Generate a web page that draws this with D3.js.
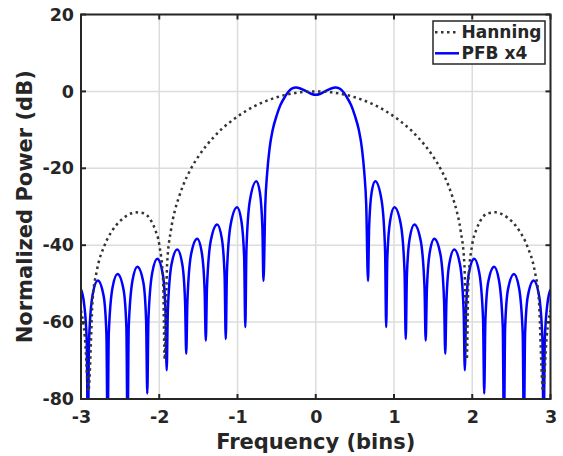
<!DOCTYPE html>
<html>
<head>
  <meta charset="utf-8">
  <title>Hanning vs PFB</title>
  <script src="https://d3js.org/d3.v7.min.js"></script>
  <style>
    body {
      margin: 0;
      background: #ffffff;
      font-family: 'DejaVu Sans', sans-serif;
    }
    svg text {
      font-weight: bold;
      fill: #262626;
    }
  </style>
</head>
<body>
  <div id="chart"></div>

  <script>
    // Axis ticks
    const xTicks = [-3, -2, -1, 0, 1, 2, 3];
    const yTicks = [-80, -60, -40, -20, 0, 20];

    // Series names (legend)
    const seriesNames = ["Hanning", "PFB x4"];

    // Hanning response, [frequency (bins), power (dB)]
    const hanning = [
      [-3.0, -57], [-2.95, -64], [-2.905, -78], [-2.85, -53.8], [-2.8, -46.9], [-2.7, -40.1],
      [-2.6, -36.2], [-2.5, -33.7], [-2.4, -32.15], [-2.3, -31.45], [-2.2, -31.7], [-2.1, -33.8],
      [-2.05, -36.1], [-2.0, -39.8], [-1.95, -49.6], [-1.93, -69.7], [-1.9, -45.2], [-1.85, -36.0],
      [-1.8, -31.0], [-1.75, -27.6], [-1.7, -24.7], [-1.6, -20.3], [-1.5, -16.93], [-1.4, -14.15],
      [-1.3, -11.8], [-1.2, -9.75], [-1.1, -8.06], [-1.0, -6.51], [-0.9, -5.21], [-0.8, -4.03],
      [-0.7, -3.05], [-0.6, -2.22], [-0.5, -1.53], [-0.4, -0.97], [-0.3, -0.55], [-0.2, -0.24],
      [-0.1, -0.06], [0, 0],
      [0.1, -0.06], [0.2, -0.24], [0.3, -0.55], [0.4, -0.97], [0.5, -1.53], [0.6, -2.22],
      [0.7, -3.05], [0.8, -4.03], [0.9, -5.21], [1.0, -6.51], [1.1, -8.06], [1.2, -9.75],
      [1.3, -11.8], [1.4, -14.15], [1.5, -16.93], [1.6, -20.3], [1.7, -24.7], [1.75, -27.6],
      [1.8, -31.0], [1.85, -36.0], [1.9, -45.2], [1.93, -69.7], [1.95, -49.6], [2.0, -39.8],
      [2.05, -36.1], [2.1, -33.8], [2.2, -31.7], [2.3, -31.45], [2.4, -32.15], [2.5, -33.7],
      [2.6, -36.2], [2.7, -40.1], [2.8, -46.9], [2.85, -53.8], [2.905, -78], [2.95, -64],
      [3.0, -57]
    ];

    // PFB x4 response, [frequency (bins), power (dB)]
    const pfb = [
      [-3.0, -51.5], [-2.96, -55.3], [-2.927, -64.8],
      [-2.912, -90], [-2.897, -64.6], [-2.85, -52.7], [-2.785, -49.2], [-2.71, -53.3], [-2.675, -63.2],
      [-2.66, -90], [-2.645, -63.0], [-2.597, -51.0], [-2.533, -47.5], [-2.456, -51.6], [-2.42, -61.4],
      [-2.405, -90], [-2.39, -61.2], [-2.342, -49.2], [-2.28, -45.6], [-2.203, -49.7], [-2.168, -59.5],
      [-2.153, -78.6], [-2.138, -59.2], [-2.09, -47.2], [-2.025, -43.5], [-1.955, -47.5], [-1.92, -57.3],
      [-1.905, -72.5], [-1.89, -57.0], [-1.8425, -44.9], [-1.77, -41.1], [-1.705, -45.0], [-1.67, -54.7],
      [-1.655, -68.2], [-1.64, -54.5], [-1.5925, -42.3], [-1.515, -38.3], [-1.455, -42.1], [-1.42, -51.7],
      [-1.405, -64.8], [-1.39, -51.0], [-1.341, -38.8], [-1.26, -34.6], [-1.2, -38.3], [-1.165, -47.8],
      [-1.15, -64.4], [-1.135, -47.0], [-1.0875, -34.6], [-1.005, -30.1], [-0.95, -33.7], [-0.915, -43.1],
      [-0.9, -61.3], [-0.886, -41.3], [-0.842, -28.4], [-0.76, -23.4], [-0.714, -26.3], [-0.682, -35.4],
      [-0.668, -49.3], [-0.645, -29.5], [-0.62, -21.0], [-0.59, -14.8], [-0.55, -10.0], [-0.5, -6.3],
      [-0.45, -3.5], [-0.4, -1.6], [-0.35, -0.1], [-0.3, 0.8], [-0.255, 1.0], [-0.19, 0.7],
      [-0.12, 0.0], [-0.06, -0.6], [0.0, -0.9],
      [0.06, -0.6], [0.12, 0.0], [0.19, 0.7], [0.255, 1.0], [0.3, 0.8], [0.35, -0.1],
      [0.4, -1.6], [0.45, -3.5], [0.5, -6.3], [0.55, -10.0], [0.59, -14.8], [0.62, -21.0],
      [0.645, -29.5], [0.668, -49.3],
      [0.682, -35.4], [0.714, -26.3], [0.76, -23.4], [0.842, -28.4], [0.886, -41.3], [0.9, -61.3],
      [0.915, -43.1], [0.95, -33.7], [1.005, -30.1], [1.0875, -34.6], [1.135, -47.0], [1.15, -64.4],
      [1.165, -47.8], [1.2, -38.3], [1.26, -34.6], [1.341, -38.8], [1.39, -51.0], [1.405, -64.8],
      [1.42, -51.7], [1.455, -42.1], [1.515, -38.3], [1.5925, -42.3], [1.64, -54.5], [1.655, -68.2],
      [1.67, -54.7], [1.705, -45.0], [1.77, -41.1], [1.8425, -44.9], [1.89, -57.0], [1.905, -72.5],
      [1.92, -57.3], [1.955, -47.5], [2.025, -43.5], [2.09, -47.2], [2.138, -59.2], [2.153, -78.6],
      [2.168, -59.5], [2.203, -49.7], [2.28, -45.6], [2.342, -49.2], [2.39, -61.2], [2.405, -90],
      [2.42, -61.4], [2.456, -51.6], [2.533, -47.5], [2.597, -51.0], [2.645, -63.0], [2.66, -90],
      [2.675, -63.2], [2.71, -53.3], [2.785, -49.2], [2.85, -52.7], [2.897, -64.6], [2.912, -90],
      [2.927, -64.8], [2.96, -55.3], [3.0, -51.5]
    ];

    // Chart dimensions
    const width = 563;
    const height = 456;
    const margin = { top: 14.5, right: 12.5, bottom: 57, left: 81 };
    const innerW = width - margin.left - margin.right;
    const innerH = height - margin.top - margin.bottom;

    const svg = d3.select("#chart")
      .append("svg")
      .attr("width", width)
      .attr("height", height);

    const g = svg.append("g")
      .attr("transform", "translate(" + margin.left + "," + margin.top + ")");

    const x = d3.scaleLinear().domain([-3, 3]).range([0, innerW]);
    const y = d3.scaleLinear().domain([-80, 20]).range([innerH, 0]);

    svg.append("defs").append("clipPath")
      .attr("id", "plot-clip")
      .append("rect")
      .attr("width", innerW)
      .attr("height", innerH);

    // Grid
    g.append("g")
      .selectAll("line")
      .data(xTicks)
      .join("line")
      .attr("x1", d => x(d)).attr("x2", d => x(d))
      .attr("y1", 0).attr("y2", innerH)
      .attr("stroke", "#dcdcdc")
      .attr("stroke-width", 1.5);

    g.append("g")
      .selectAll("line")
      .data(yTicks)
      .join("line")
      .attr("x1", 0).attr("x2", innerW)
      .attr("y1", d => y(d)).attr("y2", d => y(d))
      .attr("stroke", "#dcdcdc")
      .attr("stroke-width", 1.5);

    // Curves
    const line = d3.line()
      .x(d => x(d[0]))
      .y(d => y(d[1]))
      .curve(d3.curveMonotoneX);

    const curves = g.append("g").attr("clip-path", "url(#plot-clip)");

    curves.append("path")
      .datum(pfb)
      .attr("fill", "none")
      .attr("stroke", "#0000ff")
      .attr("stroke-width", 2.5)
      .attr("stroke-linejoin", "round")
      .attr("d", line);

    curves.append("path")
      .datum(hanning)
      .attr("fill", "none")
      .attr("stroke", "#333333")
      .attr("stroke-width", 2.5)
      .attr("stroke-dasharray", "2.5,3.5")
      .attr("d", line);

    // Axes (box with inward ticks on all four sides)
    const axisColor = "#262626";
    const tickLen = 5;
    const plainFormat = d => String(d); // hyphen minus, like the original

    const xAxis = g.append("g")
      .attr("transform", "translate(0," + innerH + ")")
      .call(d3.axisBottom(x).tickValues(xTicks).tickSize(0).tickPadding(12).tickFormat(plainFormat));
    const yAxis = g.append("g")
      .call(d3.axisLeft(y).tickValues(yTicks).tickSize(0).tickPadding(7).tickFormat(plainFormat));

    [xAxis, yAxis].forEach(function(a) {
      a.select(".domain").remove();
      a.selectAll("text")
        .attr("fill", axisColor)
        .style("font-family", "'DejaVu Sans', sans-serif")
        .style("font-size", "17.5px")
        .style("font-weight", "bold");
    });

    const ticks = g.append("g")
      .attr("stroke", axisColor)
      .attr("stroke-width", 2);

    xTicks.forEach(function(t) {
      ticks.append("line").attr("x1", x(t)).attr("x2", x(t)).attr("y1", innerH).attr("y2", innerH - tickLen);
      ticks.append("line").attr("x1", x(t)).attr("x2", x(t)).attr("y1", 0).attr("y2", tickLen);
    });
    yTicks.forEach(function(t) {
      ticks.append("line").attr("x1", 0).attr("x2", tickLen).attr("y1", y(t)).attr("y2", y(t));
      ticks.append("line").attr("x1", innerW).attr("x2", innerW - tickLen).attr("y1", y(t)).attr("y2", y(t));
    });

    g.append("rect")
      .attr("width", innerW)
      .attr("height", innerH)
      .attr("fill", "none")
      .attr("stroke", axisColor)
      .attr("stroke-width", 2);

    // Axis labels
    svg.append("text")
      .attr("x", margin.left + innerW / 2)
      .attr("y", 449)
      .attr("text-anchor", "middle")
      .style("font-size", "21px")
      .text("Frequency (bins)");

    svg.append("text")
      .attr("transform", "translate(32," + (margin.top + innerH / 2) + ") rotate(-90)")
      .attr("text-anchor", "middle")
      .style("font-size", "21px")
      .text("Normalized Power (dB)");

    // Legend
    const legend = svg.append("g").attr("transform", "translate(433,21)");

    legend.append("rect")
      .attr("width", 112)
      .attr("height", 43)
      .attr("fill", "#ffffff")
      .attr("stroke", axisColor)
      .attr("stroke-width", 1.5);

    const legendStyles = [
      { color: "#333333", dash: "2.5,3.5" },
      { color: "#0000ff", dash: null }
    ];

    seriesNames.forEach(function(name, i) {
      const ly = 11.3 + i * 21;
      legend.append("line")
        .attr("x1", 2).attr("x2", 26)
        .attr("y1", ly).attr("y2", ly)
        .attr("stroke", legendStyles[i].color)
        .attr("stroke-width", 2.5)
        .attr("stroke-dasharray", legendStyles[i].dash);
      legend.append("text")
        .attr("x", 28.5)
        .attr("y", ly + 6)
        .style("font-size", "17px")
        .text(name);
    });
  </script>
</body>
</html>
